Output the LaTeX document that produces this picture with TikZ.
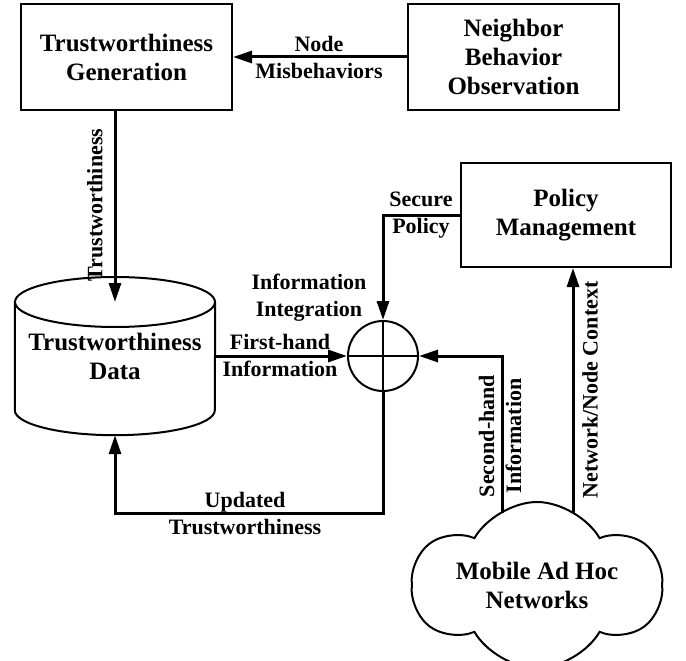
\documentclass[tikz,border=0pt]{standalone}
\usepackage{fontspec}
\setmainfont{Liberation Serif}
\usetikzlibrary{arrows.meta,positioning,shapes.symbols}

\begin{document}
\begin{tikzpicture}[x=1pt,y=-1pt]
\tikzset{
  procbox/.style={rectangle,draw=black,line width=2pt,minimum width=211pt,minimum height=106pt,align=center,font=\fontsize{25}{29}\selectfont\bfseries},
  dbnode/.style={rectangle,minimum width=200pt,minimum height=158pt,align=center,font=\fontsize{25}{29}\selectfont\bfseries},
  sumnode/.style={circle,draw=black,line width=2pt,minimum size=70pt,inner sep=0pt},
  netcloud/.style={cloud,cloud puffs=6,cloud puff arc=120,cloud ignores aspect,shape border rotate=30,draw=black,line width=2pt,minimum width=248pt,minimum height=166pt,inner sep=0pt,align=center,font=\fontsize{25}{29}\selectfont\bfseries},
  flow/.style={draw=black,line width=3pt,-{Triangle[length=19pt,width=12pt]}},
  flowlabel/.style={align=center,inner sep=0pt,font=\fontsize{22}{27}\selectfont\bfseries}
}
\useasboundingbox (0,0) rectangle (686,661);
% boxes
\node[procbox] (tg) at (126.5,57) {Trustworthiness\\Generation};
\node[procbox] (nb) at (513.5,57) {Neighbor\\Behavior\\Observation};
\node[procbox,minimum width=210pt,minimum height=104pt] (pm) at (566,215) {Policy\\Management};
\node[dbnode] (db) at (115,356) {Trustworthiness\\Data};
\node[sumnode] (sum) at (383,356) {};
\node[netcloud] (net) at (537,585) {Mobile Ad Hoc\\Networks};
\coordinate (dbtop) at (115,302);
\coordinate (netA) at (502,513);
\coordinate (netB) at (573,513);
% database outline
\draw[line width=2pt] ([yshift=-25pt]db.north west) -- ([yshift=25pt]db.south west)
  arc[start angle=180,end angle=360,x radius=100pt,y radius=25pt] -- ([yshift=-25pt]db.north east);
\draw[line width=2pt] (dbtop) ellipse[x radius=100pt,y radius=25pt];
% cross in the circle
\draw[line width=2pt] (sum.north) -- (sum.south);
\draw[line width=2pt] (sum.west) -- (sum.east);
% arrows
\draw[flow] (nb) -- (tg);
\draw[flow] (dbtop |- tg.south) -- (dbtop);
\draw[flow] (db.east) -- (sum.west);
\draw[flow] (pm.west) -| (sum.north);
\draw[flow] (netA) |- (sum.east);
\draw[flow] (netB) -- (netB |- pm.south);
\draw[flow] (sum.south) |- ([yshift=-78pt]db.south) -- (db.south);
% labels
\node[flowlabel] (l_mis) at (319,57) {Node\\Misbehaviors};
\node[flowlabel,rotate=90] (l_trust) at (95,205) {Trustworthiness};
\node[flowlabel] (l_sec) at (421,215) {Secure\\Policy};
\node[flowlabel] (l_int) at (309,298) {Information\\Integration};
\node[flowlabel] (l_first) at (280,355) {First-hand\\Information};
\node[flowlabel] (l_upd) at (245,513) {Updated\\Trustworthiness};
\node[flowlabel,rotate=90] (l_second) at (500,436) {Second-hand\\Information};
\node[flowlabel,rotate=90] (l_ctx) at (590,390) {Network/Node Context};
\end{tikzpicture}
\end{document}
